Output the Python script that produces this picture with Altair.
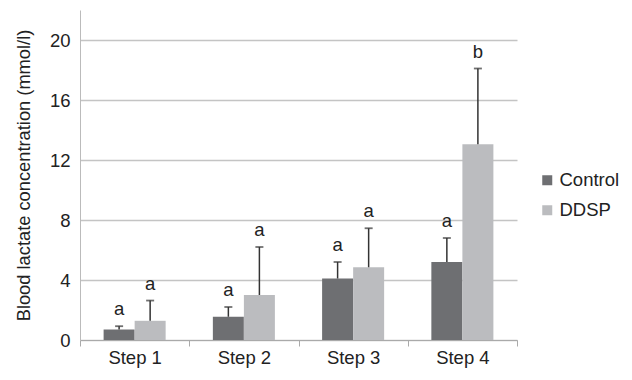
import altair as alt
import pandas as pd

steps = ["Step 1", "Step 2", "Step 3", "Step 4"]
groups = ["Control", "DDSP"]
control_mean = [0.7, 1.55, 4.1, 5.2]
control_err = [0.92, 2.2, 5.2, 6.8]
ddsp_mean = [1.28, 3.0, 4.85, 13.05]
ddsp_err = [2.63, 6.2, 7.45, 18.1]
control_sig = ["a", "a", "a", "a"]
ddsp_sig = ["a", "a", "a", "b"]

rows = []
for i, s in enumerate(steps):
    rows.append({"step": s, "group": "Control", "mean": control_mean[i], "err": control_err[i], "sig": control_sig[i]})
    rows.append({"step": s, "group": "DDSP", "mean": ddsp_mean[i], "err": ddsp_err[i], "sig": ddsp_sig[i]})
df = pd.DataFrame(rows)

FONT = "Liberation Sans"

x = alt.X("step:N", sort=steps, title=None,
          scale=alt.Scale(paddingInner=0, paddingOuter=0),
          axis=alt.Axis(labelAngle=0, labelFontSize=18.5, labelColor="#222", labelFont=FONT,
                        tickBand="extent", tickSize=6, tickColor="#aaa", domainColor="#aaa",
                        domainWidth=1, labelPadding=2))
xo = alt.XOffset("group:N", sort=groups, scale=alt.Scale(paddingOuter=0.76, paddingInner=0))

color = alt.Color("group:N", sort=groups,
                  scale=alt.Scale(domain=groups, range=["#6e6f72", "#bbbcbf"]),
                  legend=alt.Legend(title=None, orient="none", legendX=458, legendY=161,
                                    symbolType="square", symbolSize=100, symbolStrokeWidth=0,
                                    labelFontSize=18.5, labelFont=FONT, labelColor="#222",
                                    rowPadding=11, labelOffset=3, labelLimit=200))

yscale = alt.Scale(domain=[0, 22], nice=False)

bars = alt.Chart(df).mark_bar(size=31).encode(
    x=x, xOffset=xo,
    y=alt.Y("mean:Q", scale=yscale, title="Blood lactate concentration (mmol/l)",
            axis=alt.Axis(values=[0, 4, 8, 12, 16, 20], labelFontSize=18.5, labelFont=FONT,
                          labelColor="#222", ticks=False, labelPadding=10,
                          gridColor="#c4c4c4", gridWidth=1.3, domainColor="#bbb",
                          titleFontSize=18.3, titleFont=FONT, titleFontWeight="normal",
                          titleColor="#222", titlePadding=16)),
    color=color,
)

rules = alt.Chart(df).mark_rule(color="#333", strokeWidth=1.5).encode(
    x=x, xOffset=xo, y=alt.Y("mean:Q", scale=yscale), y2="err:Q"
)
caps = alt.Chart(df).mark_tick(color="#333", thickness=1.8, size=8).encode(
    x=x, xOffset=xo, y=alt.Y("err:Q", scale=yscale)
)
labels = alt.Chart(df).mark_text(fontSize=18.5, font=FONT, color="#222", baseline="alphabetic", dy=-11).encode(
    x=x, xOffset=xo, y=alt.Y("err:Q", scale=yscale), text="sig:N"
)

chart = alt.layer(bars, rules, caps, labels).properties(
    width=437, height=330,
    autosize=alt.AutoSizeParams(type="none"),
    padding={"left": 72, "top": 2, "right": 107, "bottom": 32},
).configure_view(stroke=None).configure_axis(grid=True).configure_axisX(grid=False)

chart.save("out.html", embed_options={"renderer": "svg", "actions": False})
